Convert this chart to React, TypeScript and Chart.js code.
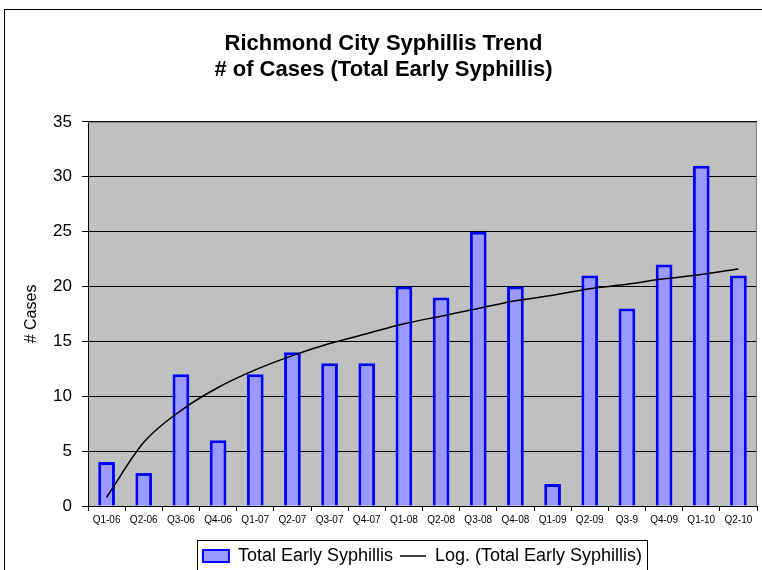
import React, { useEffect, useRef } from "react";
import { Chart, registerables } from "chart.js";

Chart.register(...registerables);

const categories = [
  "Q1-06", "Q2-06", "Q3-06", "Q4-06", "Q1-07", "Q2-07", "Q3-07", "Q4-07", "Q1-08",
  "Q2-08", "Q3-08", "Q4-08", "Q1-09", "Q2-09", "Q3-9", "Q4-09", "Q1-10", "Q2-10",
];
const cases = [4, 3, 12, 6, 12, 14, 13, 13, 20, 19, 25, 20, 2, 21, 18, 22, 31, 21];
// logarithmic trend line values
const trend = [0.8, 5.8, 8.7, 10.8, 12.4, 13.7, 14.8, 15.7, 16.6, 17.3, 18.0, 18.7, 19.2, 19.8, 20.2, 20.7, 21.1, 21.6];
const yTicks = [0, 5, 10, 15, 20, 25, 30, 35];
const titleLines = ["Richmond City Syphillis Trend", "# of Cases (Total Early Syphillis)"];
const barLabel = "Total Early Syphillis";
const trendLabel = "Log. (Total Early Syphillis)";

const FONT = "Arial, 'Liberation Sans', sans-serif";

const framePlugin = {
  id: "frame",
  beforeDraw(chart: any) {
    const { ctx, chartArea } = chart;
    ctx.save();
    ctx.fillStyle = "#ffffff";
    ctx.fillRect(0, 0, chart.width, chart.height);
    ctx.fillStyle = "#c0c0c0";
    ctx.fillRect(chartArea.left, chartArea.top, chartArea.right - chartArea.left, chartArea.bottom - chartArea.top);
    ctx.strokeStyle = "#000000";
    ctx.lineWidth = 1;
    ctx.strokeRect(4.5, 9.5, 1000, 1000);
    ctx.restore();
  },
  afterDatasetsDraw(chart: any) {
    const { ctx, chartArea } = chart;
    ctx.save();
    ctx.strokeStyle = "#808080";
    ctx.lineWidth = 1;
    ctx.beginPath();
    ctx.moveTo(chartArea.left, chartArea.top + 0.5);
    ctx.lineTo(chartArea.right - 0.5, chartArea.top + 0.5);
    ctx.lineTo(chartArea.right - 0.5, chartArea.bottom);
    ctx.stroke();
    ctx.restore();
  },
  afterDraw(chart: any) {
    const lg = chart.legend;
    if (!lg || !lg.legendHitBoxes || !lg.legendHitBoxes.length) return;
    const hb = lg.legendHitBoxes;
    const first = hb[0];
    const last = hb[hb.length - 1];
    const { ctx } = chart;
    ctx.save();
    ctx.strokeStyle = "#000000";
    ctx.lineWidth = 1;
    const l = Math.round(first.left - 6) + 0.5;
    const r = Math.round(last.left + last.width + 5) + 0.5;
    const t = Math.round(lg.top) + 0.5;
    ctx.strokeRect(l, t, r - l, 60);
    ctx.restore();
  },
};

export default function App() {
  const ref = useRef<HTMLCanvasElement | null>(null);
  useEffect(() => {
    if (!ref.current) return;
    const chart = new Chart(ref.current, {
      type: "bar",
      data: {
        labels: categories,
        datasets: [
          {
            type: "bar",
            label: barLabel,
            data: cases,
            backgroundColor: "#9999ff",
            borderColor: "#0000ff",
            borderWidth: 3,
            barPercentage: 0.45,
            categoryPercentage: 1,
            order: 2,
          },
          {
            type: "line",
            label: trendLabel,
            data: trend,
            borderColor: "#000000",
            borderWidth: 1.5,
            pointRadius: 0,
            fill: false,
            cubicInterpolationMode: "monotone",
            order: 1,
          } as any,
        ],
      },
      options: {
        animation: false,
        responsive: false,
        layout: { padding: { left: 10, right: 5, top: 0, bottom: 25 } },
        plugins: {
          title: {
            display: true,
            text: titleLines,
            color: "#000000",
            font: { family: FONT, size: 22, weight: "bold", lineHeight: 1.18 },
            padding: { top: 31, bottom: 39 },
          },
          legend: {
            display: true,
            position: "bottom",
            fullSize: false,
            labels: {
              color: "#000000",
              font: { family: FONT, size: 18 },
              usePointStyle: true,
              pointStyleWidth: 26,
              boxHeight: 12,
              padding: 7,
              generateLabels: () => [
                {
                  text: barLabel,
                  fillStyle: "#9999ff",
                  strokeStyle: "#0000ff",
                  lineWidth: 2,
                  pointStyle: "rect",
                  datasetIndex: 0,
                  hidden: false,
                },
                {
                  text: trendLabel,
                  fillStyle: "#000000",
                  strokeStyle: "#000000",
                  lineWidth: 1.5,
                  pointStyle: "line",
                  datasetIndex: 1,
                  hidden: false,
                },
              ] as any,
            },
          },
          tooltip: { enabled: false },
        },
        scales: {
          x: {
            grid: {
              display: true,
              drawOnChartArea: false,
              drawTicks: true,
              tickLength: 5,
              color: "#000000",
              offset: true,
            },
            border: { display: true, color: "#000000" },
            ticks: {
              color: "#000000",
              font: { family: FONT, size: 10 },
              padding: 3,
              maxRotation: 0,
              autoSkip: false,
            },
            afterFit: (scale: any) => {
              scale.height = 34;
            },
          },
          y: {
            min: 0,
            max: 35,
            afterBuildTicks: (scale: any) => {
              scale.ticks = yTicks.map((v) => ({ value: v }));
            },
            grid: {
              display: true,
              color: "#000000",
              lineWidth: 1,
              tickLength: 6,
            },
            border: { display: true, color: "#000000" },
            ticks: {
              color: "#000000",
              font: { family: FONT, size: 17 },
              padding: 10,
            },
            title: {
              display: true,
              text: "# Cases",
              color: "#000000",
              font: { family: FONT, size: 16 },
              padding: { top: 12, bottom: 0 },
            },
            afterFit: (scale: any) => {
              scale.width = 78;
            },
          },
        },
      },
      plugins: [framePlugin],
    });
    return () => chart.destroy();
  }, []);
  return (
    <div style={{ position: "fixed", left: 0, top: 0, width: 762, height: 570, overflow: "hidden", background: "#fff" }}>
      <canvas ref={ref} width={762} height={600} style={{ display: "block", width: 762, height: 600 }} />
    </div>
  );
}
